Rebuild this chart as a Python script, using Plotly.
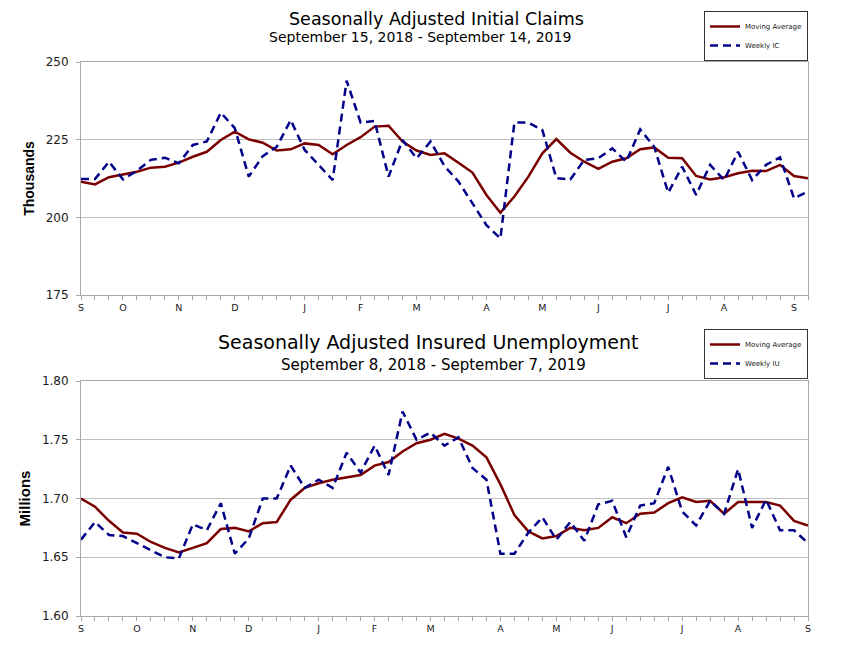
import plotly.graph_objects as go

# ---------------- data ----------------
weeks = list(range(53))

ic_tick_weeks = [0, 3, 7, 11, 16, 20, 24, 29, 33, 37, 42, 46, 51]
ic_tick_labels = ["S", "O", "N", "D", "J", "F", "M", "A", "M", "J", "J", "A", "S"]

iu_tick_weeks = [0, 4, 8, 12, 17, 21, 25, 30, 34, 38, 43, 47, 52]
iu_tick_labels = ["S", "O", "N", "D", "J", "F", "M", "A", "M", "J", "J", "A", "S"]

ic_moving_avg = [211.5, 210.6, 212.9, 213.9, 214.7, 216.0, 216.3, 217.6, 219.5, 221.1,
                 224.9, 227.6, 225.1, 224.0, 221.5, 221.9, 223.8, 223.3, 220.3, 223.3,
                 225.8, 229.2, 229.5, 224.4, 221.5, 220.1, 220.6, 217.6, 214.4, 207.2,
                 201.5, 206.7, 213.1, 220.6, 225.2, 220.8, 217.9, 215.6, 217.9, 219.0,
                 221.9, 222.5, 219.2, 219.0, 213.3, 212.2, 212.9, 214.2, 215.0, 214.9,
                 216.9, 213.3, 212.6]

ic_weekly = [212.3, 212.3, 217.9, 212.2, 215.0, 218.5, 219.2, 217.4, 223.3, 224.4,
             233.7, 228.7, 213.1, 219.7, 222.7, 231.3, 221.7, 216.9, 212.0, 244.0,
             230.5, 231.0, 213.1, 224.9, 219.0, 224.4, 216.5, 211.5, 204.5, 197.5,
             193.2, 230.5, 230.5, 228.1, 212.6, 212.2, 218.5, 219.0, 222.2, 217.9,
             228.3, 222.7, 207.9, 216.3, 207.2, 216.9, 212.0, 221.1, 212.0, 216.9,
             219.3, 206.1, 208.3]

iu_moving_avg = [1.700, 1.693, 1.681, 1.671, 1.670, 1.663, 1.658, 1.654, 1.658, 1.662,
                 1.674, 1.675, 1.672, 1.679, 1.680, 1.699, 1.709, 1.713, 1.716, 1.718,
                 1.720, 1.728, 1.731, 1.740, 1.747, 1.750, 1.755, 1.751, 1.745, 1.735,
                 1.712, 1.686, 1.672, 1.666, 1.668, 1.675, 1.673, 1.675, 1.684, 1.679,
                 1.687, 1.688, 1.696, 1.701, 1.697, 1.698, 1.687, 1.697, 1.697, 1.697,
                 1.694, 1.681, 1.677]

iu_weekly = [1.665, 1.680, 1.669, 1.668, 1.662, 1.656, 1.650, 1.649, 1.678, 1.673,
             1.696, 1.653, 1.666, 1.700, 1.700, 1.728, 1.709, 1.716, 1.709, 1.739,
             1.722, 1.745, 1.720, 1.774, 1.750, 1.756, 1.745, 1.752, 1.726, 1.716,
             1.653, 1.653, 1.671, 1.684, 1.665, 1.680, 1.664, 1.695, 1.698, 1.667,
             1.694, 1.696, 1.727, 1.689, 1.677, 1.698, 1.687, 1.725, 1.675, 1.699,
             1.673, 1.673, 1.662]

# ---------------- style ----------------
# page has an 8px body margin, so the figure is sized to fill the rest of the window
OFF = 8
W, H = 843 - OFF, 651 - OFF
FONT = "DejaVu Sans, sans-serif"
BFONT = "Liberation Sans, Arial, sans-serif"
MA_COLOR = "#7a0000"
WK_COLOR = "#000088"
GRID = "#c0c0c0"
AXLINE = "#a8a8a8"
TXT = "#1a1a1a"


def px_x(p):
    return (p - OFF) / W


def px_y(p):
    return 1 - (p - OFF) / H


fig = go.Figure()

fig.add_trace(go.Scatter(x=weeks, y=ic_moving_avg, mode="lines", name="Moving Average",
                         line=dict(color=MA_COLOR, width=2.5), xaxis="x", yaxis="y",
                         legend="legend"))
fig.add_trace(go.Scatter(x=weeks, y=ic_weekly, mode="lines", name="Weekly IC",
                         line=dict(color=WK_COLOR, width=2.5, dash="8px,5px"),
                         xaxis="x", yaxis="y", legend="legend"))
fig.add_trace(go.Scatter(x=weeks, y=iu_moving_avg, mode="lines", name="Moving Average",
                         line=dict(color=MA_COLOR, width=2.5), xaxis="x2", yaxis="y2",
                         legend="legend2"))
fig.add_trace(go.Scatter(x=weeks, y=iu_weekly, mode="lines", name="Weekly IU",
                         line=dict(color=WK_COLOR, width=2.5, dash="8px,5px"),
                         xaxis="x2", yaxis="y2", legend="legend2"))

xdom = [px_x(81), px_x(808)]


def xaxis_cfg(tv, tt, anchor):
    return dict(domain=xdom, anchor=anchor, range=[0, 52], tickmode="array",
                tickvals=tv, ticktext=tt, ticks="outside", ticklen=4,
                tickcolor=AXLINE, showgrid=False, zeroline=False, showline=True,
                linecolor=AXLINE, linewidth=1, mirror=True,
                tickfont=dict(family=FONT, size=9.5, color=TXT),
                minor=dict(tickmode="linear", tick0=0, dtick=1, ticks="outside",
                           ticklen=4, tickcolor=AXLINE, showgrid=False))


def yaxis_cfg(dom, rng, tv, fmt, title, tsize, anchor):
    return dict(domain=dom, anchor=anchor, range=rng, tickmode="array", tickvals=tv,
                tickformat=fmt, ticks="outside", ticklen=4, tickcolor=AXLINE,
                ticklabelstandoff=5,
                showgrid=True, gridcolor=GRID, gridwidth=1, zeroline=False,
                showline=True, linecolor=AXLINE, linewidth=1, mirror=True,
                tickfont=dict(family=FONT, size=12, color=TXT),
                title=dict(text="<b>%s</b>" % title, standoff=7,
                           font=dict(family=BFONT, size=tsize, color="#000000")))


legend_style = dict(bgcolor="white", bordercolor="#333333", borderwidth=1,
                    font=dict(family=FONT, size=7, color=TXT),
                    tracegroupgap=0, itemwidth=30, xanchor="right", yanchor="bottom")

fig.update_layout(
    width=W, height=H,
    margin=dict(l=0, r=0, t=0, b=0, autoexpand=False),
    paper_bgcolor="white", plot_bgcolor="white",
    xaxis=xaxis_cfg(ic_tick_weeks, ic_tick_labels, "y"),
    yaxis=yaxis_cfg([px_y(295), px_y(62)], [175, 250], [175, 200, 225, 250], "d",
                    "Thousands", 14, "x"),
    xaxis2=xaxis_cfg(iu_tick_weeks, iu_tick_labels, "y2"),
    yaxis2=yaxis_cfg([px_y(616), px_y(381)], [1.60, 1.80],
                     [1.60, 1.65, 1.70, 1.75, 1.80], ".2f", "Millions", 15, "x2"),
    legend=dict(x=px_x(808), y=px_y(61), **legend_style),
    legend2=dict(x=px_x(808), y=px_y(379), **legend_style),
    showlegend=True,
    annotations=[
        dict(text="Seasonally Adjusted Initial Claims", x=px_x(436), y=px_y(19),
             xref="paper", yref="paper", xanchor="center", yanchor="middle",
             showarrow=False, font=dict(family=FONT, size=17.5, color="#000000")),
        dict(text="September 15, 2018 - September 14, 2019", x=px_x(420), y=px_y(37.5),
             xref="paper", yref="paper", xanchor="center", yanchor="middle",
             showarrow=False, font=dict(family=FONT, size=14, color="#000000")),
        dict(text="Seasonally Adjusted Insured Unemployment", x=px_x(428), y=px_y(342),
             xref="paper", yref="paper", xanchor="center", yanchor="middle",
             showarrow=False, font=dict(family=FONT, size=19, color="#000000")),
        dict(text="September 8, 2018 - September 7, 2019", x=px_x(433), y=px_y(365),
             xref="paper", yref="paper", xanchor="center", yanchor="middle",
             showarrow=False, font=dict(family=FONT, size=15, color="#000000")),
    ],
)

fig.write_html("out.html")
